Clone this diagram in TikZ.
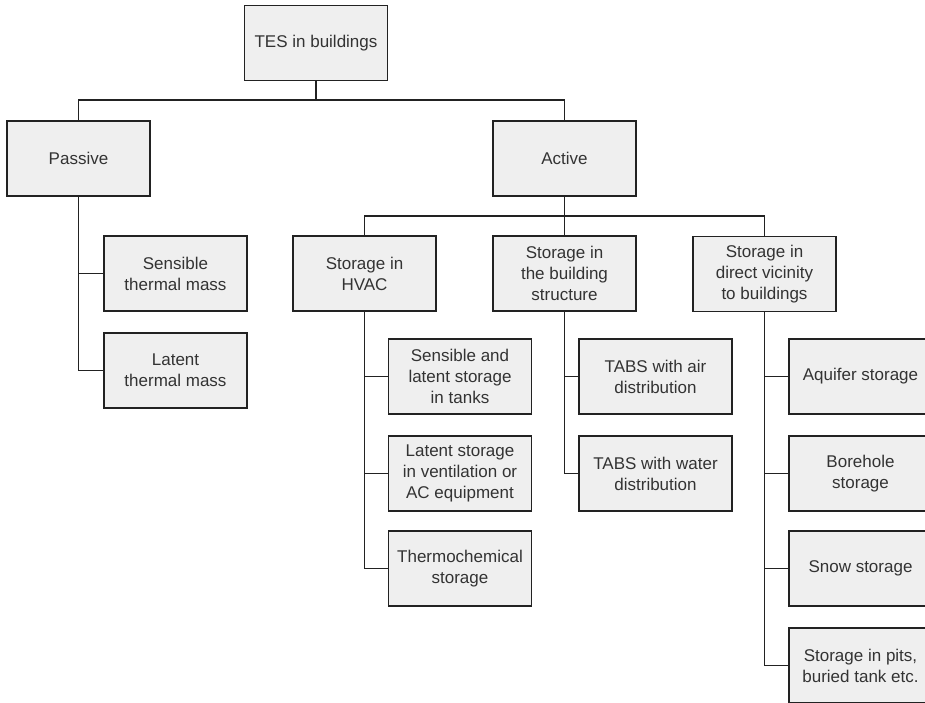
\documentclass[tikz,border=0pt]{standalone}
\usepackage{fontspec}
\setmainfont{Liberation Sans}
\definecolor{boxfill}{HTML}{EFEFEF}
\definecolor{linecol}{HTML}{222222}
\definecolor{txtcol}{HTML}{333333}
\tikzset{
  treebox/.style={draw=linecol, line width=1.1pt, fill=boxfill, text=txtcol,
    minimum width=143pt, minimum height=75pt, inner sep=2pt, outer sep=0pt, align=center,
    font=\fontsize{17pt}{21pt}\selectfont},
  widebox/.style={treebox, minimum width=153pt},
  conn/.style={draw=linecol, line width=1.2pt}
}
\begin{document}
\begin{tikzpicture}[x=1pt,y=-1pt]
\useasboundingbox (0,0) rectangle (925,702);
\clip (0,0) rectangle (925,702);
\fill[white] (0,0) rectangle (925,702);
% nodes
\node[treebox] (tes) at (316,43) {TES in buildings};
\node[treebox] (passive) at (78.5,158.5) {Passive};
\node[treebox] (active) at (564.5,158.5) {Active};
\node[treebox] (sens) at (175.5,273.5) {Sensible\\thermal mass};
\node[treebox] (latent) at (175.5,370.5) {Latent\\thermal mass};
\node[treebox] (hvac) at (364.5,273.5) {Storage in\\HVAC};
\node[treebox] (struct) at (564.5,273.5) {Storage in\\the building\\structure};
\node[treebox] (vic) at (764.5,274) {Storage in\\direct vicinity\\to buildings};
\node[treebox] (tank) at (460,376.5) {Sensible and\\latent storage\\in tanks};
\node[treebox] (latvent) at (460,473.5) {Latent storage\\in ventilation or\\AC equipment};
\node[treebox] (thermo) at (460,568.5) {Thermochemical\\storage};
\node[widebox] (tabsair) at (655.5,376.5) {TABS with air\\distribution};
\node[widebox] (tabswater) at (655.5,473.5) {TABS with water\\distribution};
\node[treebox] (aquifer) at (860.5,376.5) {Aquifer storage};
\node[treebox] (borehole) at (860.5,473.5) {Borehole\\storage};
\node[treebox] (snow) at (860.5,568.5) {Snow storage};
\node[treebox] (pits) at (860.5,665.5) {Storage in pits,\\buried tank etc.};
% junction levels
\coordinate (j1) at (0,100);
\coordinate (j2) at (0,216);
% connectors
\draw[conn] (tes.south) -- (tes.south |- j1);
\draw[conn] (passive.north) -- (passive.north |- j1) -| (active.north);
\draw[conn] (active.south) -- (struct.north);
\draw[conn] (hvac.north) -- (hvac.north |- j2) -| (vic.north);
\draw[conn] (passive.south) |- (sens.west);
\draw[conn] (passive.south) |- (latent.west);
\draw[conn] (hvac.south) |- (tank.west);
\draw[conn] (hvac.south) |- (latvent.west);
\draw[conn] (hvac.south) |- (thermo.west);
\draw[conn] (struct.south) |- (tabsair.west);
\draw[conn] (struct.south) |- (tabswater.west);
\draw[conn] (vic.south) |- (aquifer.west);
\draw[conn] (vic.south) |- (borehole.west);
\draw[conn] (vic.south) |- (snow.west);
\draw[conn] (vic.south) |- (pits.west);
\end{tikzpicture}
\end{document}
